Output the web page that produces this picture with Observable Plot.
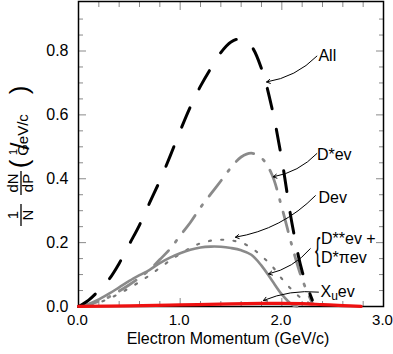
<!DOCTYPE html>
<html><head><meta charset="utf-8">
<script src="https://cdn.jsdelivr.net/npm/d3@7"></script>
<script src="https://cdn.jsdelivr.net/npm/@observablehq/plot@0.6"></script>
<style>body{margin:0;background:#fff} svg{display:block}</style>
</head><body><div id="chart"></div>
<script>
// ---- data (x: electron momentum GeV/c, y: 1/N dN/dP) ----
const allP   = [0,0.1,0.2,0.3,0.4,0.5,0.6,0.7,0.8,0.9,1.0,1.1,1.2,1.3,1.4,1.5,1.6,1.7,1.8,1.9,2.0,2.1,2.2,2.3];
const allV   = [0,0.02,0.05,0.085,0.135,0.195,0.255,0.325,0.394,0.47,0.55,0.625,0.69,0.745,0.795,0.828,0.838,0.815,0.745,0.625,0.46,0.26,0.11,0.02];

const dstarP = [0,0.1,0.2,0.3,0.4,0.5,0.6,0.7,0.8,0.9,1.0,1.1,1.2,1.3,1.4,1.5,1.6,1.7,1.8,1.9,2.0,2.1,2.2,2.3];
const dstarV = [0,0.006,0.016,0.03,0.048,0.068,0.09,0.115,0.147,0.18,0.222,0.263,0.31,0.352,0.393,0.435,0.468,0.48,0.465,0.415,0.31,0.19,0.085,0.01];

const devP   = [0,0.1,0.2,0.3,0.4,0.5,0.6,0.7,0.8,0.9,1.0,1.1,1.2,1.3,1.4,1.5,1.6,1.7,1.8,1.9,2.0,2.1,2.15];
const devV   = [0,0.008,0.022,0.04,0.06,0.08,0.098,0.115,0.136,0.153,0.167,0.178,0.185,0.1875,0.187,0.183,0.176,0.162,0.128,0.083,0.038,0.006,0];

const dssP   = [0,0.1,0.2,0.3,0.4,0.5,0.6,0.7,0.8,0.9,1.0,1.1,1.2,1.3,1.4,1.5,1.6,1.7,1.8,1.9,2.0,2.1,2.2,2.3,2.35];
const dssV   = [0,0.004,0.012,0.025,0.04,0.058,0.077,0.098,0.121,0.144,0.165,0.183,0.198,0.206,0.209,0.207,0.2,0.184,0.158,0.128,0.087,0.052,0.024,0.006,0];

const xuP    = [0,0.5,1.0,1.5,1.8,2.0,2.2,2.4,2.6,2.78];
const xuV    = [0.0005,0.002,0.005,0.008,0.0095,0.01,0.009,0.006,0.003,0.0005];

// ---- axis ticks ----
const xMajor = [0,1,2,3];
const xMinor = [0.2,0.4,0.6,0.8,1.2,1.4,1.6,1.8,2.2,2.4,2.6,2.8];
const yMajor = [0,0.2,0.4,0.6,0.8];
const yMinor = [0.05,0.1,0.15,0.25,0.3,0.35,0.45,0.5,0.55,0.65,0.7,0.75,0.85,0.9];

// ---- annotations ----
const labelText = ["All","D*ev","Dev","D**ev +","D*\u03C0ev","Xuev"];
const labelX    = [2.36,2.345,2.36,2.385,2.385,2.38];
const labelY    = [0.784,0.475,0.339,0.211,0.152,0.045];
const arrowX1   = [2.345,2.345,2.33,2.28];
const arrowY1   = [0.784,0.479,0.347,0.181];
const arrowX2   = [1.85,1.915,1.544,1.87];
const arrowY2   = [0.703,0.406,0.217,0.102];
const xuArrow   = [{x1: 2.36, y1: 0.045, x2: 1.82, y2: 0.019}];

const toRows = (P, V) => P.map((p, i) => ({p, v: V[i]}));
const labels = labelText.map((t, i) => ({t, x: labelX[i], y: labelY[i]}));
const arrows = arrowX1.map((x1, i) => ({x1, y1: arrowY1[i], x2: arrowX2[i], y2: arrowY2[i]}));

const font = "'Liberation Sans', Arial, Helvetica, sans-serif";
const gray = "#8a8a8a";

const chart = Plot.plot({
  width: 393, height: 354,
  marginLeft: 78, marginRight: 10, marginTop: 1, marginBottom: 48,
  x: {domain: [0, 3]},
  y: {domain: [0, 0.955]},
  style: {fontFamily: font, fontSize: "16px", color: "black", background: "white"},
  marks: [
    // inward minor ticks
    Plot.axisX({ticks: xMinor, anchor: "bottom", tickSize: -5, tickFormat: () => "", stroke: gray, label: null}),
    Plot.axisX({ticks: xMinor, anchor: "top", tickSize: -5, tickFormat: () => "", stroke: gray, label: null}),
    Plot.axisY({ticks: yMinor, anchor: "left", tickSize: -5, tickFormat: () => "", stroke: gray, label: null}),
    Plot.axisY({ticks: yMinor, anchor: "right", tickSize: -5, tickFormat: () => "", stroke: gray, label: null}),
    // inward major ticks
    Plot.axisX({ticks: xMajor, anchor: "bottom", tickSize: -8, tickFormat: () => "", stroke: gray, label: null}),
    Plot.axisX({ticks: xMajor, anchor: "top", tickSize: -8, tickFormat: () => "", stroke: gray, label: null}),
    Plot.axisY({ticks: yMajor, anchor: "left", tickSize: -8, tickFormat: () => "", stroke: gray, label: null}),
    Plot.axisY({ticks: yMajor, anchor: "right", tickSize: -8, tickFormat: () => "", stroke: gray, label: null}),
    // tick labels
    Plot.axisX({ticks: xMajor, anchor: "bottom", tickSize: 0, tickPadding: 8, dx: -1, tickFormat: d3.format(".1f"), fontSize: 15, label: null}),
    Plot.axisY({ticks: yMajor, anchor: "left", tickSize: 0, tickPadding: 10, tickFormat: d3.format(".1f"), fontSize: 16, label: null}),
    Plot.frame({stroke: "black", strokeWidth: 1.5}),
    // curves
    Plot.line(toRows(dssP, dssV), {x: "p", y: "v", curve: "catmull-rom", stroke: "#777", strokeWidth: 2.2, strokeDasharray: "2,10.3"}),
    Plot.line(toRows(devP, devV), {x: "p", y: "v", curve: "catmull-rom", stroke: gray, strokeWidth: 2.6}),
    Plot.line(toRows(dstarP, dstarV), {x: "p", y: "v", curve: "catmull-rom", stroke: gray, strokeWidth: 2.8, strokeDasharray: "20,11,2,11"}),
    Plot.line(toRows(allP, allV), {x: "p", y: "v", curve: "catmull-rom", stroke: "black", strokeWidth: 3, strokeDasharray: "21,21"}),
    Plot.line(toRows(xuP, xuV), {x: "p", y: "v", curve: "catmull-rom", stroke: "#ee1111", strokeWidth: 3.2}),
    // annotations
    Plot.arrow(arrows, {x1: "x1", y1: "y1", x2: "x2", y2: "y2", bend: 18, headLength: 6, stroke: "black", strokeWidth: 1}),
    Plot.arrow(xuArrow, {x1: "x1", y1: "y1", x2: "x2", y2: "y2", bend: -14, headLength: 6, stroke: "black", strokeWidth: 1}),
    Plot.text(labels, {x: "x", y: "y", text: "t", textAnchor: "start", lineAnchor: "middle", fontSize: 16, fill: "black"}),
    Plot.text(["{"], {x: 2.325, y: 0.178, text: d => d, textAnchor: "start", lineAnchor: "middle", fontSize: 32, fill: "black", className: "brace"}),
    // x axis title
    Plot.text(["Electron Momentum (GeV/c)"], {frameAnchor: "bottom", dy: 37, dx: -3, text: d => d, fontSize: 16, fill: "black"})
  ]
});
document.getElementById("chart").appendChild(chart);

// thin the brace horizontally
d3.select(chart).selectAll("g.brace text").each(function() {
  const t = this.getAttribute("transform") || "";
  this.setAttribute("transform", t + " scale(0.5,1)");
});

// subscript u in Xuev
d3.select(chart).selectAll("text").filter(function() { return this.textContent === "Xuev"; })
  .each(function() {
    const t = d3.select(this); t.text("");
    t.append("tspan").text("X");
    t.append("tspan").attr("font-size", 12).attr("dy", 3).text("u");
    t.append("tspan").attr("dy", -3).text("ev");
  });

// rotated y-axis title: 1/N dN/dP (1/GeV/c)
const g = d3.select(chart).append("g")
  .attr("transform", "translate(21,229) rotate(-90)")
  .attr("font-family", font).attr("fill", "black");
g.append("text").attr("x", 14).attr("y", -3).attr("text-anchor", "middle").attr("font-size", 15).text("1");
g.append("line").attr("x1", 3).attr("x2", 25).attr("y1", 0).attr("y2", 0).attr("stroke", "black").attr("stroke-width", 1.3);
g.append("text").attr("x", 14).attr("y", 12).attr("text-anchor", "middle").attr("font-size", 15).text("N");
g.append("text").attr("x", 46).attr("y", -3).attr("text-anchor", "middle").attr("font-size", 15).text("dN");
g.append("line").attr("x1", 34).attr("x2", 58).attr("y1", 0).attr("y2", 0).attr("stroke", "black").attr("stroke-width", 1.3);
g.append("text").attr("x", 46).attr("y", 12).attr("text-anchor", "middle").attr("font-size", 15).text("dP");
g.append("text").attr("x", 65).attr("y", 7).attr("font-size", 26).text("(");
g.append("text").attr("x", 77).attr("y", -4).attr("font-size", 11).text("1");
g.append("text").attr("x", 83).attr("y", 8).attr("font-size", 26).text("/");
g.append("text").attr("x", 94).attr("y", 7).attr("font-size", 15).text("GeV/c");
g.append("text").attr("x", 139).attr("y", 7).attr("font-size", 26).text(")");
</script></body></html>
